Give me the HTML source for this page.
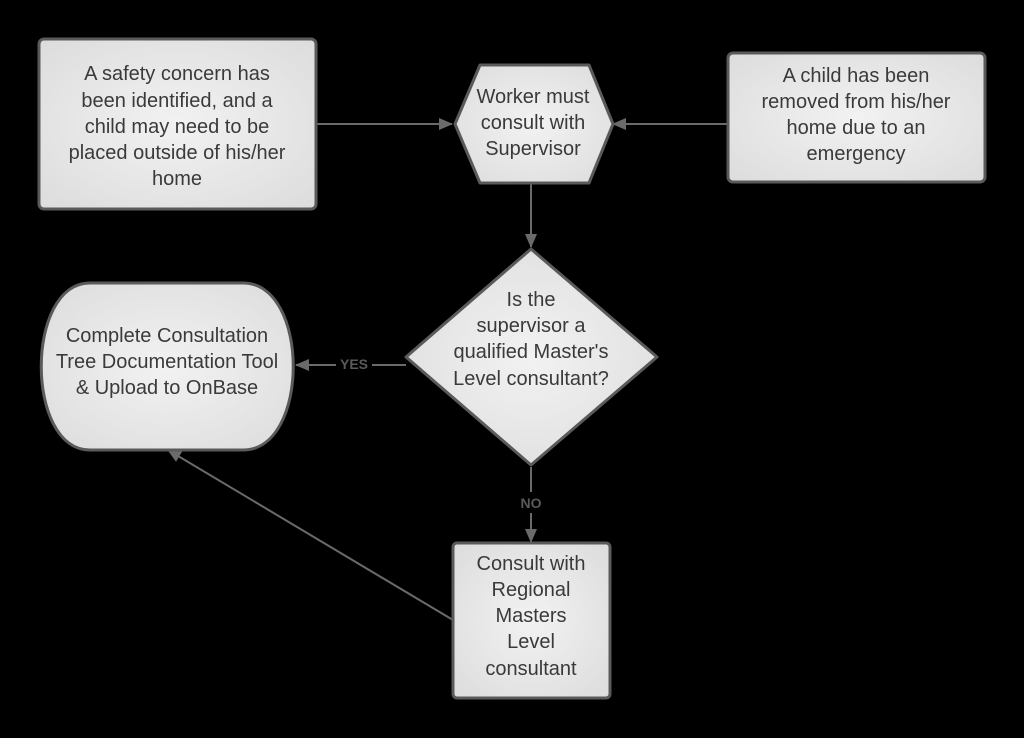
<!DOCTYPE html>
<html><head><style>
html,body{margin:0;padding:0;background:#000;}
svg{display:block;}
text{font-family:"Liberation Sans",sans-serif;font-size:20px;fill:#3a3a3a;text-anchor:middle;}
.l{font-weight:bold;font-size:14px;fill:#5a5a5a;}
</style></head><body>
<svg width="1024" height="738" viewBox="0 0 1024 738">
<defs>
<radialGradient id="g" cx="50%" cy="50%" r="70%"><stop offset="0" stop-color="#f2f2f2"/><stop offset="1" stop-color="#dcdcdc"/></radialGradient>
<marker id="a" markerWidth="14" markerHeight="14" refX="13" refY="7" orient="auto" markerUnits="userSpaceOnUse"><path d="M0,1 L14,7 L0,13 Z" fill="#6a6a6a"/></marker>
</defs>
<g stroke="#6a6a6a" stroke-width="2" fill="none">
<line x1="316" y1="124" x2="452" y2="124" marker-end="url(#a)"/>
<line x1="728" y1="124" x2="613" y2="124" marker-end="url(#a)"/>
<line x1="531" y1="184" x2="531" y2="247" marker-end="url(#a)"/>
<line x1="406" y1="365" x2="372" y2="365"/>
<line x1="336" y1="365" x2="296" y2="365" marker-end="url(#a)"/>
<line x1="531" y1="467" x2="531" y2="492"/>
<line x1="531" y1="513" x2="531" y2="542" marker-end="url(#a)"/>
<line x1="453" y1="620" x2="168" y2="450" marker-end="url(#a)"/>
</g>
<g stroke="#5a5a5a" stroke-width="3" fill="url(#g)">
<rect x="39" y="39" width="277" height="170" rx="5"/>
<rect x="728" y="53" width="257" height="129" rx="5"/>
<path d="M480,65 L589,65 L613,124 L589,183 L480,183 L455,124 Z" stroke-linejoin="round"/>
<path d="M531,249 L657,357 L531,465 L406,357 Z" stroke-linejoin="round"/>
<path d="M90,283 L243,283 C310,283 310,450 243,450 L90,450 C25,450 25,283 90,283 Z"/>
<rect x="453" y="543" width="157" height="155" rx="4"/>
</g>
<text x="177" y="80">A safety concern has</text>
<text x="177" y="107">been identified, and a</text>
<text x="177" y="133">child may need to be</text>
<text x="177" y="159">placed outside of his/her</text>
<text x="177" y="185">home</text>
<text x="533" y="103">Worker must</text>
<text x="533" y="129">consult with</text>
<text x="533" y="155">Supervisor</text>
<text x="856" y="82">A child has been</text>
<text x="856" y="108">removed from his/her</text>
<text x="856" y="134">home due to an</text>
<text x="856" y="160">emergency</text>
<text x="531" y="306">Is the</text>
<text x="531" y="332">supervisor a</text>
<text x="531" y="358">qualified Master's</text>
<text x="531" y="385">Level consultant?</text>
<text x="167" y="342">Complete Consultation</text>
<text x="167" y="368">Tree Documentation Tool</text>
<text x="167" y="394">&amp; Upload to OnBase</text>
<text x="531" y="570">Consult with</text>
<text x="531" y="596">Regional</text>
<text x="531" y="622">Masters</text>
<text x="531" y="648">Level</text>
<text x="531" y="675">consultant</text>
<text class="l" x="354" y="369">YES</text>
<text class="l" x="531" y="508">NO</text>
</svg>
</body></html>
